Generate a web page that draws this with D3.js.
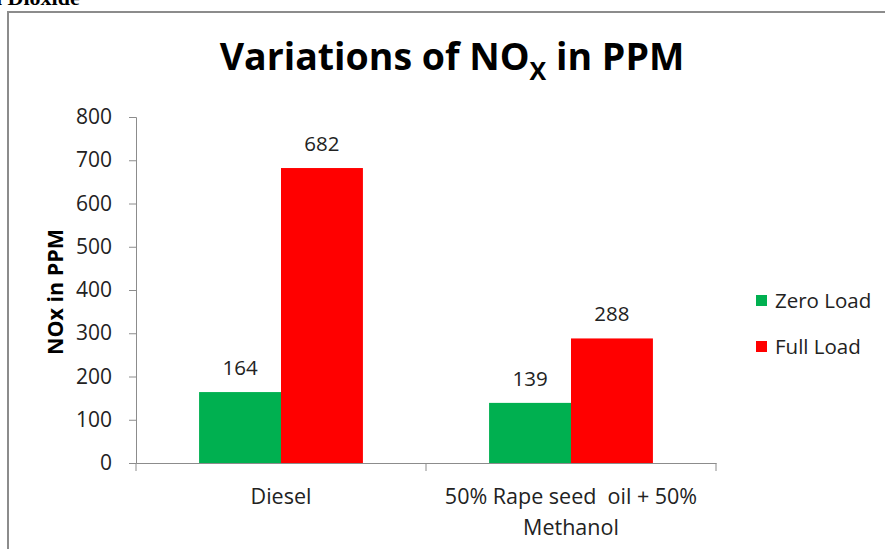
<!DOCTYPE html>
<html>
<head>
<meta charset="utf-8">
<script src="https://cdn.jsdelivr.net/npm/d3@7"></script>
<style>
  body { margin: 0; background: #fff; }
  svg { display: block; }
  text { white-space: pre; }
</style>
</head>
<body>
<div id="chart"></div>
<script>
const svgWidth = 885
const svgHeight = 549

const categories = ["Diesel", "50% Rape seed  oil + 50% Methanol"]
const categoryLines = [["Diesel"], ["50% Rape seed  oil + 50%", "Methanol"]]
const seriesNames = ["Zero Load", "Full Load"]
const zeroLoad = [164, 139]
const fullLoad = [682, 288]
const yTicks = [0, 100, 200, 300, 400, 500, 600, 700, 800]
const colors = ["#00B050", "#FF0000"]

const font = "'Open Sans', sans-serif"

const plot = { left: 136, right: 716, top: 117, bottom: 463 }

const svg = d3.select("#chart").append("svg")
  .attr("width", svgWidth)
  .attr("height", svgHeight)

// cropped heading from the page above the chart
svg.append("text")
  .attr("x", -4)
  .attr("y", 5)
  .attr("font-family", "'Liberation Serif', serif")
  .attr("font-weight", "bold")
  .attr("font-size", 22)
  .text("l Dioxide")

// chart frame
svg.append("rect")
  .attr("x", 8)
  .attr("y", 12)
  .attr("width", 900)
  .attr("height", 600)
  .attr("fill", "none")
  .attr("stroke", "#8c8c8c")
  .attr("stroke-width", 2)

// title
const title = svg.append("text")
  .attr("x", 452)
  .attr("y", 70)
  .attr("text-anchor", "middle")
  .attr("font-family", font)
  .attr("font-weight", "bold")
  .attr("font-size", 37.5)
  .attr("fill", "#000")
title.append("tspan").text("Variations of NO")
title.append("tspan").attr("font-size", 25).attr("dy", 10).text("X")
title.append("tspan").attr("dy", -10).text(" in PPM")

const x = d3.scaleBand()
  .domain(categories)
  .range([plot.left, plot.right])

const xInner = d3.scaleBand()
  .domain(seriesNames)
  .range([0, x.bandwidth()])
  .paddingOuter(0.77)

const y = d3.scaleLinear()
  .domain([0, 800])
  .range([plot.bottom, plot.top])

// y axis
const yAxis = svg.append("g")
  .attr("transform", `translate(${plot.left},0)`)
  .call(d3.axisLeft(y).tickValues(yTicks).tickSize(7).tickPadding(17))
yAxis.selectAll("path, line").attr("stroke", "#8c8c8c")
yAxis.selectAll("text")
  .attr("font-family", font)
  .attr("font-size", 21)
  .attr("fill", "#222")

// x axis
const xAxis = svg.append("g")
  .attr("transform", `translate(0,${plot.bottom})`)
  .call(d3.axisBottom(x).tickSize(0).tickFormat(""))
xAxis.select("path").attr("stroke", "#8c8c8c")
xAxis.selectAll(".tick").remove()

const boundaries = [plot.left, plot.left + x.step(), plot.right]
svg.selectAll(".xtick")
  .data(boundaries)
  .enter().append("line")
  .attr("x1", d => d).attr("x2", d => d)
  .attr("y1", plot.bottom).attr("y2", plot.bottom + 8)
  .attr("stroke", "#8c8c8c")

// category labels
categories.forEach((c, i) => {
  const t = svg.append("text")
    .attr("x", x(c) + x.bandwidth() / 2)
    .attr("y", 504)
    .attr("text-anchor", "middle")
    .attr("font-family", font)
    .attr("font-size", 21.5)
    .attr("fill", "#222")
  categoryLines[i].forEach((line, j) => {
    t.append("tspan")
      .attr("x", x(c) + x.bandwidth() / 2)
      .attr("dy", j === 0 ? 0 : 31)
      .text(line)
  })
})

// bars
const seriesValues = [zeroLoad, fullLoad]
seriesValues.forEach((vals, s) => {
  const g = svg.append("g")
  g.selectAll("rect")
    .data(vals)
    .enter().append("rect")
    .attr("x", (d, i) => x(categories[i]) + xInner(seriesNames[s]))
    .attr("y", d => y(d))
    .attr("width", xInner.bandwidth())
    .attr("height", d => y(0) - y(d))
    .attr("fill", colors[s])
  g.selectAll("text")
    .data(vals)
    .enter().append("text")
    .attr("x", (d, i) => x(categories[i]) + xInner(seriesNames[s]) + xInner.bandwidth() / 2)
    .attr("y", d => y(d) - 17)
    .attr("text-anchor", "middle")
    .attr("font-family", font)
    .attr("font-size", 20.5)
    .attr("fill", "#222")
    .text(d => d)
})

// y axis label
svg.append("text")
  .attr("transform", `translate(63,292) rotate(-90)`)
  .attr("text-anchor", "middle")
  .attr("font-family", font)
  .attr("font-weight", "bold")
  .attr("font-size", 21.5)
  .text("NOx in PPM")

// legend
const legend = svg.append("g")
  .selectAll("g")
  .data(seriesNames)
  .enter().append("g")
  .attr("transform", (d, i) => `translate(756,${295 + i * 46})`)
legend.append("rect")
  .attr("width", 11).attr("height", 11)
  .attr("fill", (d, i) => colors[i])
legend.append("text")
  .attr("x", 19)
  .attr("y", 13)
  .attr("font-family", font)
  .attr("font-size", 20.5)
  .attr("fill", "#222")
  .text(d => d)
</script>
</body>
</html>
